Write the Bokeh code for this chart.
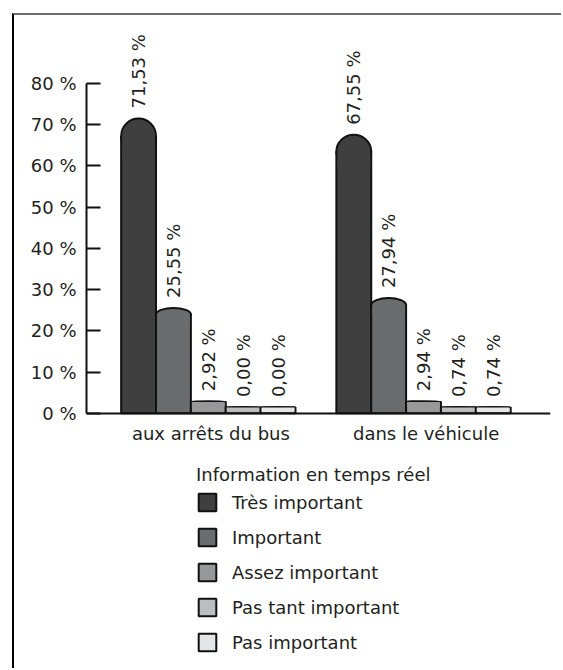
import math
from bokeh.plotting import figure
from bokeh.models import (FactorRange, Range1d, ColumnDataSource, Legend, LegendItem,
                          FixedTicker)
from bokeh.transform import dodge
from bokeh.core.properties import value
from bokeh.embed import file_html
from bokeh.resources import INLINE

# ---------------- data ----------------
categories = ["aux arrêts du bus", "dans le véhicule"]
levels = ["Très important", "Important", "Assez important", "Pas tant important", "Pas important"]
stop_values = [71.53, 25.55, 2.92, 0.00, 0.00]
vehicle_values = [67.55, 27.94, 2.94, 0.74, 0.74]
colors = ["#3f3f3f", "#6b6c6e", "#97989a", "#bcbdbf", "#e4e5e6"]
y_ticks = [0, 10, 20, 30, 40, 50, 60, 70, 80]
y_tick_labels = ["0 %", "10 %", "20 %", "30 %", "40 %", "50 %", "60 %", "70 %", "80 %"]
legend_title = "Information en temps réel"

# ---------------- style ----------------
FONT = "DejaVu Sans"
FS = "18px"
TXT = "#231f20"
BAR_W = 0.162
MIN_H = 1.5      # minimal visible bar height (%)
CAP_RATIO = 0.12 # full height of the elliptic cap relative to bar height
PX = 2.156 / 464.0  # approx data units per pixel on x

p = figure(width=549, height=655,
           x_range=FactorRange(*categories, range_padding=0.078, range_padding_units="absolute"),
           y_range=Range1d(-61.2, 95.3),
           output_backend="svg", toolbar_location=None,
           min_border_left=72, min_border_right=13, min_border_top=5, min_border_bottom=5)
p.margin = (13, 0, 0, 12)
p.styles = {"border-top": "2px solid #6d6d6d", "border-left": "2px solid #000000"}
p.grid.visible = False
p.outline_line_color = None
p.background_fill_color = "white"
p.border_fill_color = "white"

legend_items = []
for i, lvl in enumerate(levels):
    vals = [stop_values[i], vehicle_values[i]]
    disp = [max(v, MIN_H) for v in vals]
    cap = [d * CAP_RATIO for d in disp]
    body = [d - c / 2 for d, c in zip(disp, cap)]
    cover_bottom = [max(0.0, b - c / 2 - 0.6) for b, c in zip(body, cap)]
    labels = [f"{v:.2f}".replace(".", ",") + " %" for v in vals]
    src = ColumnDataSource(dict(x=categories, disp=disp, cap=cap, body=body,
                                cover_bottom=cover_bottom, label=labels))
    off = (i - 2) * BAR_W - 0.012
    xd = dodge("x", off, range=p.x_range)
    r = p.vbar(x=xd, top="body", bottom=0, width=BAR_W, source=src,
               fill_color=colors[i], line_color="#111111", line_width=2)
    p.ellipse(x=xd, y="body", width=BAR_W, height="cap", source=src,
              fill_color=colors[i], line_color="#111111", line_width=2)
    p.vbar(x=xd, top="body", bottom="cover_bottom", width=BAR_W - 2 * PX, source=src,
           fill_color=colors[i], line_alpha=0)
    p.text(x=xd, y="disp", text="label", source=src, angle=math.pi / 2,
           y_offset=-10, text_align="left", text_baseline="middle",
           text_font=value(FONT), text_font_size=FS, text_color=TXT)
    legend_items.append(LegendItem(label=lvl, renderers=[r]))

# axes
yax = p.yaxis[0]
yax.ticker = FixedTicker(ticks=y_ticks)
yax.major_label_overrides = dict(zip(y_ticks, y_tick_labels))
yax.bounds = (0, 80)
yax.axis_line_width = 2
yax.axis_line_color = "#111111"
yax.major_tick_line_width = 2
yax.major_tick_line_color = "#111111"
yax.major_tick_in = 14
yax.major_tick_out = 0
yax.minor_tick_line_color = None
yax.major_label_standoff = 10
yax.major_label_text_font = FONT
yax.major_label_text_font_size = FS
yax.major_label_text_color = TXT

xax = p.xaxis[0]
xax.fixed_location = 0
xax.axis_line_width = 2
xax.axis_line_color = "#111111"
xax.major_tick_in = 0
xax.major_tick_out = 0
xax.minor_tick_line_color = None
xax.major_label_standoff = 10
xax.major_label_text_font = FONT
xax.major_label_text_font_size = FS
xax.major_label_text_color = TXT

legend = Legend(items=legend_items, location=(110, 12), orientation="vertical",
                title=legend_title)
legend.title_text_font = FONT
legend.title_text_font_size = FS
legend.title_text_font_style = "normal"
legend.title_text_color = TXT
legend.title_standoff = 6
legend.label_text_font = FONT
legend.label_text_font_size = FS
legend.label_text_color = TXT
legend.label_height = 21
legend.label_standoff = 14
legend.glyph_width = 22
legend.glyph_height = 22
legend.spacing = 13
legend.padding = 5
legend.margin = 0
legend.border_line_color = None
legend.background_fill_alpha = 0
p.add_layout(legend, "center")

open("out.html", "w").write(file_html(p, INLINE))
